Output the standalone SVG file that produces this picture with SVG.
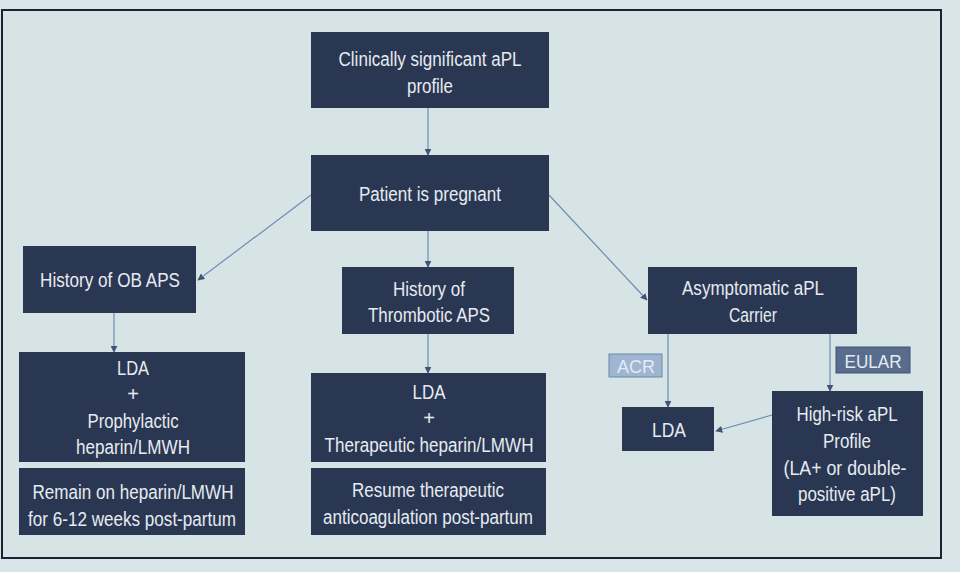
<svg xmlns="http://www.w3.org/2000/svg" width="960" height="572" viewBox="0 0 960 572">
<defs>
<style>
.n{fill:#2a3752;}
.t{font-family:"Liberation Sans",Arial,sans-serif;font-size:20px;fill:#e6ebf1;text-anchor:middle;}
.c{stroke:#6e8db3;stroke-width:1.2;fill:none;marker-end:url(#ah);}
</style>
<marker id="ah" viewBox="0 0 10 10" refX="9" refY="5" markerWidth="7" markerHeight="7" orient="auto" markerUnits="userSpaceOnUse">
<path d="M0,0 L10,5 L0,10 z" fill="#3f5578"/>
</marker>
</defs>
<rect x="0" y="0" width="960" height="572" fill="#d9e5e8"/>
<rect x="2" y="10" width="939" height="548" fill="#d7e4e6" stroke="#1b2332" stroke-width="2"/>
<g id="connectors">
<line class="c" x1="428" y1="108" x2="428" y2="155"/>
<line class="c" x1="311" y1="195" x2="198" y2="280"/>
<line class="c" x1="428" y1="231" x2="428" y2="267"/>
<line class="c" x1="549" y1="195" x2="647" y2="300"/>
<line class="c" x1="114" y1="313" x2="114" y2="352"/>
<line class="c" x1="428" y1="334" x2="428" y2="373"/>
<line class="c" x1="668" y1="334" x2="668" y2="407"/>
<line class="c" x1="830" y1="334" x2="830" y2="391"/>
<line class="c" x1="772" y1="415" x2="716" y2="431"/>
</g>
<g id="top">
<rect class="n" x="311" y="32" width="238" height="76"/>
<text class="t" x="430" y="66" textLength="183" lengthAdjust="spacingAndGlyphs">Clinically significant aPL</text>
<text class="t" x="430" y="93" textLength="46" lengthAdjust="spacingAndGlyphs">profile</text>
</g>
<g id="pregnant">
<rect class="n" x="311" y="155" width="238" height="76"/>
<text class="t" x="430" y="201" textLength="142" lengthAdjust="spacingAndGlyphs">Patient is pregnant</text>
</g>
<g id="ob">
<rect class="n" x="23" y="246" width="173" height="67"/>
<text class="t" x="110" y="287" textLength="140" lengthAdjust="spacingAndGlyphs">History of OB APS</text>
</g>
<g id="thrombotic">
<rect class="n" x="342" y="267" width="172" height="67"/>
<text class="t" x="429" y="296" textLength="72" lengthAdjust="spacingAndGlyphs">History of</text>
<text class="t" x="429" y="322" textLength="122" lengthAdjust="spacingAndGlyphs">Thrombotic APS</text>
</g>
<g id="carrier">
<rect class="n" x="648" y="267" width="209" height="67"/>
<text class="t" x="753" y="295" textLength="142" lengthAdjust="spacingAndGlyphs">Asymptomatic aPL</text>
<text class="t" x="753" y="322" textLength="48" lengthAdjust="spacingAndGlyphs">Carrier</text>
</g>
<g id="ob-treat">
<rect class="n" x="19" y="352" width="226" height="110"/>
<text class="t" x="133" y="375" textLength="32" lengthAdjust="spacingAndGlyphs">LDA</text>
<text class="t" x="133" y="401">+</text>
<text class="t" x="133" y="428" textLength="91" lengthAdjust="spacingAndGlyphs">Prophylactic</text>
<text class="t" x="133" y="454" textLength="114" lengthAdjust="spacingAndGlyphs">heparin/LMWH</text>
</g>
<g id="ob-post">
<rect class="n" x="19" y="468" width="226" height="67"/>
<text class="t" x="133" y="499" textLength="201" lengthAdjust="spacingAndGlyphs">Remain on heparin/LMWH</text>
<text class="t" x="132" y="526" textLength="208" lengthAdjust="spacingAndGlyphs">for 6-12 weeks post-partum</text>
</g>
<g id="thr-treat">
<rect class="n" x="311" y="373" width="235" height="89"/>
<text class="t" x="429" y="399" textLength="33" lengthAdjust="spacingAndGlyphs">LDA</text>
<text class="t" x="429" y="425">+</text>
<text class="t" x="429" y="452" textLength="209" lengthAdjust="spacingAndGlyphs">Therapeutic heparin/LMWH</text>
</g>
<g id="thr-post">
<rect class="n" x="311" y="468" width="235" height="67"/>
<text class="t" x="428" y="497" textLength="152" lengthAdjust="spacingAndGlyphs">Resume therapeutic</text>
<text class="t" x="428" y="524" textLength="210" lengthAdjust="spacingAndGlyphs">anticoagulation post-partum</text>
</g>
<g id="lda">
<rect class="n" x="622" y="407" width="92" height="44"/>
<text class="t" x="669" y="437" textLength="34" lengthAdjust="spacingAndGlyphs">LDA</text>
</g>
<g id="highrisk">
<rect class="n" x="772" y="391" width="151" height="125"/>
<text class="t" x="847" y="421" textLength="101" lengthAdjust="spacingAndGlyphs">High-risk aPL</text>
<text class="t" x="847" y="448" textLength="48" lengthAdjust="spacingAndGlyphs">Profile</text>
<text class="t" x="845" y="475" textLength="123" lengthAdjust="spacingAndGlyphs">(LA+ or double-</text>
<text class="t" x="847" y="501" textLength="98" lengthAdjust="spacingAndGlyphs">positive aPL)</text>
</g>
<g id="acr">
<rect x="609" y="354" width="53" height="23" fill="#9fb6d2" stroke="#6f86a8" stroke-width="1"/>
<text class="t" x="636" y="373" style="font-size:19px;fill:#e4ebf3" textLength="38" lengthAdjust="spacingAndGlyphs">ACR</text>
</g>
<g id="eular">
<rect x="836" y="347" width="74" height="26" fill="#586d8d" stroke="#3f5272" stroke-width="1"/>
<text class="t" x="873" y="368" style="font-size:19px" textLength="57" lengthAdjust="spacingAndGlyphs">EULAR</text>
</g>
</svg>
